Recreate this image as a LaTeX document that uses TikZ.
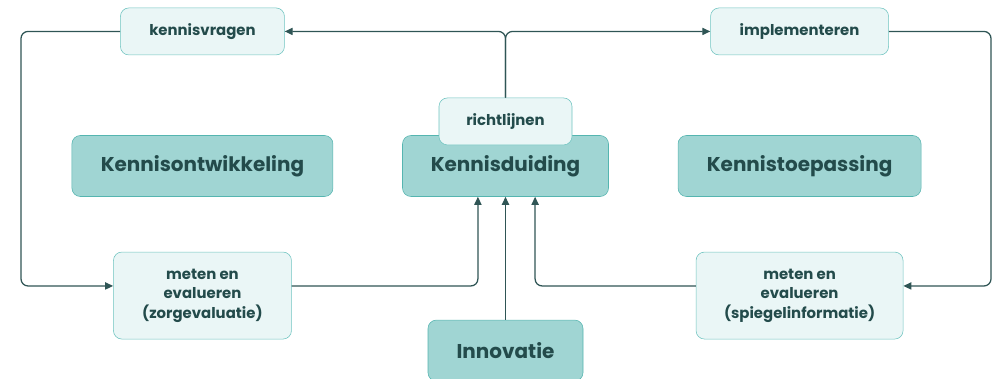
\documentclass[tikz,border=0pt]{standalone}
\usepackage{fontspec}
\setmainfont{Poppins}
\usepackage{tikz}
\usetikzlibrary{arrows.meta,positioning,calc}
\definecolor{kd-dark}{HTML}{234B4B}
\definecolor{kd-line}{HTML}{2F5555}
\definecolor{kd-fill}{HTML}{A0D5D3}
\definecolor{kd-edge}{HTML}{55B5B0}
\definecolor{kd-light}{HTML}{EAF6F6}
\definecolor{kd-ledge}{HTML}{6FC4C0}

\begin{document}
\begin{tikzpicture}[
  pillar/.style={rectangle, draw=kd-edge, fill=kd-fill, rounded corners=6pt,
                 minimum height=1.525cm, inner sep=0pt, text=kd-dark,
                 font=\bfseries\fontsize{14.2}{16}\selectfont},
  act/.style={rectangle, draw=kd-ledge, fill=kd-light, rounded corners=6pt,
              inner sep=0pt, align=center, text=kd-dark,
              font=\bfseries\fontsize{10.6}{14}\selectfont},
  flow/.style={-{Triangle[length=2mm,width=1.8mm]}, kd-line, line width=0.9pt,
               rounded corners=5pt},
  node distance=1.725cm
]
  \useasboundingbox (0,0) rectangle (24.95,-9.475);

  % Middle row
  \node[pillar, minimum width=5.15cm] (duid) at (12.6375,-4.15) {Kennisduiding};
  \node[pillar, minimum width=6.525cm, left=of duid]  (ontw) {Kennisontwikkeling};
  \node[pillar, minimum width=6.075cm, right=of duid] (toep) {Kennistoepassing};
  \node[act, minimum width=3.325cm, minimum height=1.175cm, above=-0.25cm of duid] (richt) {richtlijnen};

  % Top row
  \node[act, minimum width=4.1cm, minimum height=1.175cm, above=2cm of ontw]  (vragen) {kennisvragen};
  \node[act, minimum width=4.45cm, minimum height=1.175cm, above=2cm of toep] (impl)   {implementeren};

  % Bottom row
  \node[act, minimum width=4.45cm, minimum height=2.175cm, below=1.375cm of ontw]  (metL) {meten en\\evalueren\\(zorgevaluatie)};
  \node[act, minimum width=5.175cm, minimum height=2.175cm, below=1.375cm of toep] (metR) {meten en\\evalueren\\(spiegelinformatie)};
  \node[pillar, minimum width=3.875cm, below=3.075cm of duid] (inno) {Innovatie};

  % Cycle
  \draw[flow] (richt.north) |- (vragen.east);
  \draw[flow] (richt.north) |- (impl.west);
  \draw[flow] (vragen.west) -- (0.525,0 |- vragen.west) |- ([yshift=0.24cm]metL.west);
  \draw[flow] ([yshift=0.24cm]metL.east) -| ([xshift=-0.69cm]duid.south);
  \draw[flow] (inno) -- (inno |- duid.south);
  \draw[flow] ([yshift=0.24cm]metR.west) -| ([xshift=0.74cm]duid.south);
  \draw[flow] (impl.east) -- (24.775,0 |- impl.east) |- ([yshift=0.24cm]metR.east);
\end{tikzpicture}
\end{document}
